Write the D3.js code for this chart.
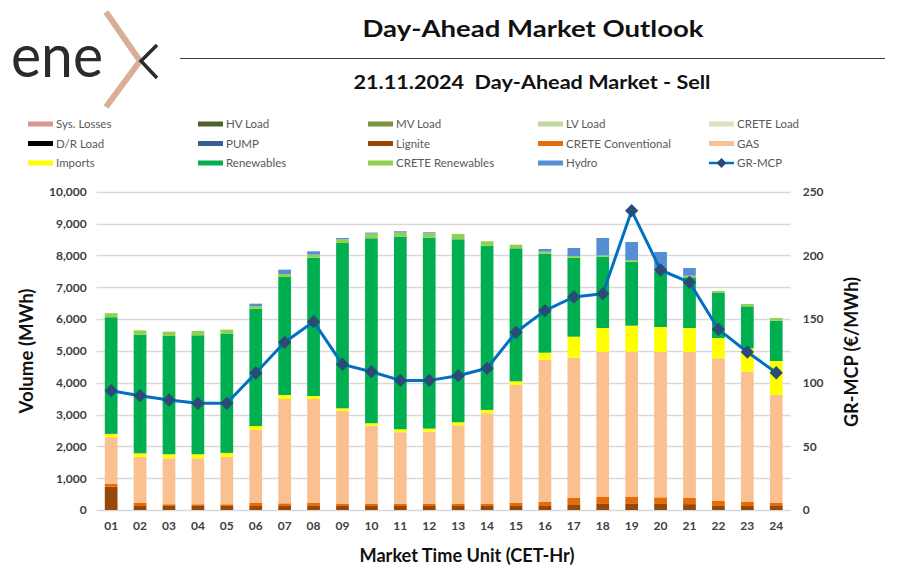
<!DOCTYPE html>
<html>
<head>
<meta charset="utf-8">
<script src="https://cdn.jsdelivr.net/npm/d3@7"></script>
<style>
html,body{margin:0;padding:0;background:#fff;}
svg{display:block;font-family:Lato,"Open Sans",sans-serif;}
</style>
</head>
<body>
<svg id="chart" width="913" height="577"></svg>
<script>
// ---------- DATA ----------
const hours = ["01","02","03","04","05","06","07","08","09","10","11","12","13","14","15","16","17","18","19","20","21","22","23","24"];
const seriesNames = ["Sys. Losses","HV Load","MV Load","LV Load","CRETE Load","D/R Load","PUMP","Lignite","CRETE Conventional","GAS","Imports","Renewables","CRETE Renewables","Hydro"];
const sysLosses = new Array(24).fill(0);
const hvLoad = new Array(24).fill(0);
const mvLoad = new Array(24).fill(0);
const lvLoad = new Array(24).fill(0);
const creteLoad = new Array(24).fill(0);
const drLoad = new Array(24).fill(0);
const pump = new Array(24).fill(0);
const lignite = [730,125,125,125,125,125,125,125,125,125,125,125,125,125,125,125,180,190,190,190,185,125,125,125];
const creteConventional = [90,95,55,55,55,95,85,105,75,65,65,65,65,65,105,137,197,218,218,208,192,158,126,95];
const gas = [1466,1445,1445,1445,1487,2293,3278,3257,2911,2451,2253,2273,2472,2849,3697,4461,4409,4556,4566,4566,4587,4483,4095,3393];
const imports = [105,115,126,126,126,126,126,94,84,84,94,94,94,105,116,220,659,754,817,785,754,638,733,1068];
const renewables = [3666,3728,3717,3738,3738,3685,3707,4346,5194,5812,6042,6000,5749,5162,4178,3110,2482,2241,2011,1731,1591,1413,1320,1266];
const creteRenewables = [126,136,136,136,136,85,94,95,115,146,136,137,168,137,115,63,53,42,52,60,52,63,73,85];
const hydro = [0,0,0,0,0,73,136,105,42,32,42,31,0,0,0,84,251,544,566,565,242,0,0,0];
const grMcp = [93.7,89.8,86.4,83.8,83.8,107.6,131.7,147.9,114.4,108.6,101.8,101.8,105.5,111.3,139.6,156.6,167.3,169.9,235.1,188.5,178.8,141.9,124.1,107.8];
const leftTicks = [0,1000,2000,3000,4000,5000,6000,7000,8000,9000,10000];
const rightTicks = [0,50,100,150,200,250];
const colors = ["#da9694","#4f6228","#77933c","#c3d69b","#d7e4bd","#000000","#366092","#974706","#e46c0a","#fac090","#ffff00","#00b050","#92d050","#558ed5"];
const lineColor = "#0070c0", markerColor = "#2a4a78";

const seriesValues = [sysLosses,hvLoad,mvLoad,lvLoad,creteLoad,drLoad,pump,lignite,creteConventional,gas,imports,renewables,creteRenewables,hydro];
const rows = hours.map((h,i)=>{const r={hour:h}; seriesNames.forEach((s,j)=>r[s]=seriesValues[j][i]); return r;});

// ---------- LAYOUT ----------
const svg = d3.select("#chart");
const plot = {left:96.7, right:790.7, top:191.7, bottom:510};
const x = d3.scaleBand().domain(hours).range([plot.left,plot.right]).paddingInner(0.56).paddingOuter(0.28);
const y = d3.scaleLinear().domain([0,10000]).range([plot.bottom,plot.top]);
const y2 = d3.scaleLinear().domain([0,250]).range([plot.bottom,plot.top]);
const tc = "#404040";

// Logo
const logo = svg.append("g");
logo.append("text").attr("x",11).attr("y",77).attr("font-size",60).attr("font-weight",400)
  .attr("fill","#2b2b2b").attr("textLength",92).attr("lengthAdjust","spacingAndGlyphs").text("ene");
logo.append("path").attr("d","M106,12 L140,61 L106,107").attr("fill","none").attr("stroke","#d9ae96").attr("stroke-width",6);
logo.append("path").attr("d","M157,45 L141,61 L157,78").attr("fill","none").attr("stroke","#2b2b2b").attr("stroke-width",3.5);

// Titles
svg.append("text").attr("x",533).attr("y",37).attr("text-anchor","middle").attr("font-size",23).attr("font-weight",700).attr("fill","#111")
  .attr("textLength",341).attr("lengthAdjust","spacingAndGlyphs").text("Day-Ahead Market Outlook");
svg.append("line").attr("x1",180).attr("x2",885).attr("y1",58.5).attr("y2",58.5).attr("stroke","#404040").attr("stroke-width",1);
svg.append("text").attr("x",532).attr("y",89).attr("text-anchor","middle").attr("font-size",18).attr("font-weight",700).attr("fill","#111")
  .attr("xml:space","preserve").attr("textLength",357).attr("lengthAdjust","spacingAndGlyphs").text("21.11.2024  Day-Ahead Market - Sell");

// Legend
const legendItems = seriesNames.map((s,i)=>({name:s,color:colors[i],type:"bar"})).concat([{name:"GR-MCP",color:lineColor,type:"line"}]);
const colX = [28,198,368,538,709], rowY = [124,143.5,163];
legendItems.forEach((d,i)=>{
  const cx = colX[i%5], cy = rowY[Math.floor(i/5)];
  const g = svg.append("g");
  if(d.type==="bar"){
    g.append("rect").attr("x",cx).attr("y",cy-2.5).attr("width",25).attr("height",5).attr("fill",d.color);
  } else {
    g.append("line").attr("x1",cx).attr("x2",cx+25).attr("y1",cy).attr("y2",cy).attr("stroke",d.color).attr("stroke-width",2.5);
    g.append("path").attr("d",d3.symbol(d3.symbolSquare,50)()).attr("transform",`translate(${cx+12.5},${cy}) rotate(45)`).attr("fill",markerColor);
  }
  g.append("text").attr("x",cx+28).attr("y",cy+4).attr("font-size",11.5).attr("fill","#595959").text(d.name);
});

// Gridlines
svg.append("g").selectAll("line").data(leftTicks).join("line")
  .attr("x1",plot.left).attr("x2",plot.right).attr("y1",d=>Math.round(y(d))+0.5).attr("y2",d=>Math.round(y(d))+0.5)
  .attr("stroke","#d9d9d9").attr("stroke-width",1.3);

// Axes
const fmt = d3.format(",");
const axL = svg.append("g").attr("transform",`translate(${plot.left-10},0)`)
  .call(d3.axisLeft(y).tickValues(leftTicks).tickFormat(fmt).tickSize(0).tickPadding(0));
axL.select(".domain").remove();
axL.selectAll("text").attr("font-size",12).attr("font-weight",700).attr("fill",tc).attr("font-family","Lato, sans-serif");

const axR = svg.append("g").attr("transform",`translate(${plot.right+12},0)`)
  .call(d3.axisRight(y2).tickValues(rightTicks).tickSize(0).tickPadding(0));
axR.select(".domain").remove();
axR.selectAll("text").attr("font-size",12).attr("font-weight",700).attr("fill",tc).attr("font-family","Lato, sans-serif");

const axB = svg.append("g").attr("transform",`translate(0,${plot.bottom+11})`)
  .call(d3.axisBottom(x).tickSize(0).tickPadding(0));
axB.select(".domain").remove();
axB.selectAll("text").attr("font-size",12).attr("font-weight",700).attr("fill",tc).attr("dy","0.71em").attr("font-family","Lato, sans-serif");

// Bars
const stack = d3.stack().keys(seriesNames)(rows);
svg.append("g").selectAll("g").data(stack).join("g")
  .attr("fill",(d,i)=>colors[i])
  .selectAll("rect").data(d=>d).join("rect")
  .attr("x",d=>x(d.data.hour)).attr("width",x.bandwidth())
  .attr("y",d=>y(d[1])).attr("height",d=>Math.max(0,y(d[0])-y(d[1])));

// Line
const line = d3.line().x((d,i)=>x(hours[i])+x.bandwidth()/2).y(d=>y2(d));
svg.append("path").datum(grMcp).attr("d",line).attr("fill","none").attr("stroke",lineColor).attr("stroke-width",3).attr("stroke-linejoin","round");
svg.append("g").selectAll("path").data(grMcp).join("path")
  .attr("d",d3.symbol(d3.symbolSquare,88)())
  .attr("transform",(d,i)=>`translate(${x(hours[i])+x.bandwidth()/2},${y2(d)}) rotate(45)`)
  .attr("fill",markerColor);

// Axis titles
svg.append("text").attr("transform",`translate(33,351) rotate(-90)`).attr("text-anchor","middle").attr("font-size",18).attr("font-weight",700).attr("fill","#111")
  .attr("textLength",125).attr("lengthAdjust","spacingAndGlyphs").text("Volume (MWh)");
svg.append("text").attr("transform",`translate(858,352) rotate(-90)`).attr("text-anchor","middle").attr("font-size",18).attr("font-weight",700).attr("fill","#111")
  .attr("textLength",150).attr("lengthAdjust","spacingAndGlyphs").text("GR-MCP (€/MWh)");
svg.append("text").attr("x",467).attr("y",562).attr("text-anchor","middle").attr("font-size",18).attr("font-weight",700).attr("fill","#111")
  .attr("textLength",215).attr("lengthAdjust","spacingAndGlyphs").text("Market Time Unit (CET-Hr)");
</script>
</body>
</html>
